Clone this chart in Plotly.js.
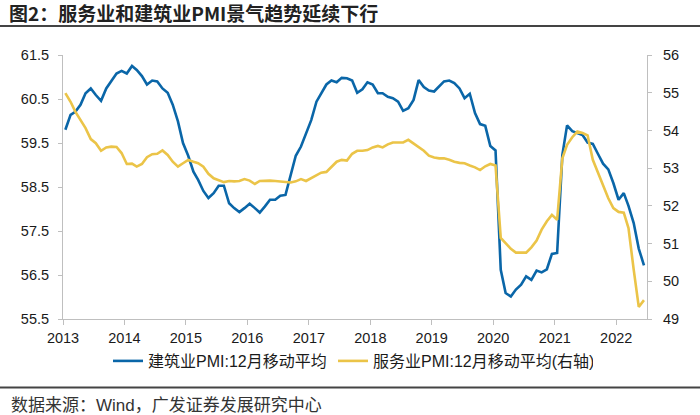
<!DOCTYPE html>
<html>
<head>
<meta charset="utf-8">
<script src="https://cdn.plot.ly/plotly-3.0.1.min.js"></script>
<style>
html,body{margin:0;padding:0;background:#fff;}
#chart{width:700px;height:415px;}
</style>
</head>
<body>
<div id="chart"></div>
<script>
// Monthly data, Jan 2013 – Jun 2022
var startYear = 2013, startMonth = 1, nMonths = 114;

var construction = [
59.80,60.14,60.21,60.37,60.63,60.74,60.59,60.46,60.74,60.90,61.08,61.14,
61.08,61.25,61.16,61.02,60.83,60.92,60.90,60.74,60.64,60.37,59.99,59.50,
59.21,58.85,58.66,58.41,58.25,58.36,58.53,58.53,58.13,58.02,57.93,58.02,
58.12,58.02,57.92,58.06,58.21,58.21,58.30,58.32,58.80,59.21,59.42,59.72,
60.02,60.44,60.64,60.83,60.92,60.88,60.98,60.97,60.92,60.64,60.72,60.88,
60.83,60.63,60.63,60.55,60.52,60.44,60.23,60.29,60.48,60.93,60.77,60.69,
60.67,60.78,60.90,60.92,60.86,60.74,60.52,60.62,60.18,59.93,59.89,59.43,
59.33,56.62,56.09,56.01,56.17,56.28,56.47,56.39,56.60,56.56,56.63,56.98,
57.00,59.23,59.90,59.77,59.72,59.68,59.51,59.48,59.25,59.03,58.90,58.59,
58.21,58.36,58.07,57.68,57.10,56.72
];

var services = [
54.99,54.76,54.50,54.28,54.06,53.77,53.66,53.46,53.55,53.57,53.56,53.40,
53.11,53.12,53.04,53.11,53.29,53.37,53.38,53.47,53.35,53.17,53.04,53.13,
53.22,53.17,53.13,53.04,52.85,52.73,52.69,52.63,52.66,52.65,52.66,52.71,
52.67,52.58,52.66,52.67,52.67,52.66,52.65,52.65,52.62,52.65,52.71,52.66,
52.73,52.82,52.88,52.90,53.04,53.17,53.22,53.20,53.38,53.46,53.46,53.48,
53.55,53.59,53.55,53.63,53.68,53.69,53.68,53.75,53.66,53.56,53.46,53.33,
53.28,53.26,53.26,53.22,53.17,53.14,53.13,53.07,53.02,52.95,53.05,53.11,
53.07,51.15,51.01,50.86,50.76,50.75,50.76,50.90,51.08,51.37,51.59,51.76,
51.63,53.26,53.62,53.82,53.97,53.93,53.87,53.22,52.87,52.53,52.20,51.94,
51.84,51.82,51.41,50.31,49.32,49.50
];

var yearTicks = ['2013','2014','2015','2016','2017','2018','2019','2020','2021','2022'];
var leftTicks = [55.5,56.5,57.5,58.5,59.5,60.5,61.5];
var rightTicks = [49,50,51,52,53,54,55,56];

var seriesNames = ['建筑业PMI:12月移动平均','服务业PMI:12月移动平均(右轴)'];
var titleText = '图2：服务业和建筑业PMI景气趋势延续下行';
var sourceText = '数据来源：Wind，广发证券发展研究中心';

function pad(n){return (n<10?'0':'')+n;}
var months = [];
for (var k=0;k<nMonths;k++){
  var m = startMonth-1+k;
  var y = startYear+Math.floor(m/12);
  months.push(y+'-'+pad(m%12+1)+'-15');
}
var tickVals = yearTicks.map(function(t){return t+'-01-01';});

var FONT = 'Liberation Sans, Arial, Noto Sans CJK SC, sans-serif';
var BLUE = '#0a66a8', YELLOW = '#ebc448', AXIS = '#bfbfbf', TXT = '#1a1a1a';

var traces = [
  {x:months, y:construction, type:'scatter', mode:'lines', name:seriesNames[0],
   line:{color:BLUE, width:2.6}, yaxis:'y', legendwidth:180},
  {x:months, y:services, type:'scatter', mode:'lines', name:seriesNames[1],
   line:{color:YELLOW, width:2.6}, yaxis:'y2', legendwidth:215}
];

var L=63, R=647, T=55, B=319, W=700, H=415;
var pw=R-L, ph=B-T;
function px(xp){return (xp-L)/pw;}
function py(yp){return (B-yp)/ph;}

var layout = {
  width:W, height:H,
  margin:{l:L, r:W-R, t:T, b:H-B, pad:0},
  paper_bgcolor:'#fff', plot_bgcolor:'#fff',
  font:{family:FONT, size:14.5, color:TXT},
  title:{text:'<b>'+titleText+'</b>', xref:'container', yref:'container',
         x:9/W, xanchor:'left', y:1-14.5/H, yanchor:'middle',
         font:{family:'Noto Sans CJK SC, Liberation Sans, sans-serif', size:19, color:'#222'}},
  showlegend:true,
  legend:{orientation:'h', x:px(108), xanchor:'left', y:py(361), yanchor:'middle',
          font:{family:FONT, size:16, color:TXT}, itemwidth:30,
          bgcolor:'rgba(0,0,0,0)'},
  xaxis:{type:'date', range:['2013-01-01','2022-07-03'],
         tickmode:'array', tickvals:tickVals, ticktext:yearTicks,
         showgrid:false, zeroline:false, showline:true, linecolor:AXIS, linewidth:1,
         ticks:'outside', ticklen:5, tickcolor:AXIS, ticklabelstandoff:1,
         tickfont:{size:14.5, color:TXT}},
  yaxis:{range:[55.5,61.5], tickmode:'array', tickvals:leftTicks,
         ticktext:leftTicks.map(function(v){return v.toFixed(1);}),
         showgrid:false, zeroline:false, showline:true, linecolor:AXIS, linewidth:1,
         ticks:'outside', ticklen:4, tickcolor:AXIS, ticklabelstandoff:6,
         tickfont:{size:14.5, color:TXT}},
  yaxis2:{range:[49,56], overlaying:'y', side:'right', tickmode:'array',
          tickvals:rightTicks, ticktext:rightTicks.map(String),
          showgrid:false, zeroline:false, showline:true, linecolor:AXIS, linewidth:1,
          ticks:'outside', ticklen:4, tickcolor:AXIS, ticklabelstandoff:8,
          tickfont:{size:14.5, color:TXT}},
  shapes:[
    {type:'line', xref:'paper', yref:'paper', x0:px(0), x1:px(W), y0:py(26), y1:py(26),
     line:{color:'#444', width:1.8}},
    {type:'line', xref:'paper', yref:'paper', x0:px(0), x1:px(W), y0:py(387.5), y1:py(387.5),
     line:{color:'#444', width:1.8}}
  ],
  annotations:[
    {text:sourceText, xref:'paper', yref:'paper', x:px(9), y:py(405),
     xanchor:'left', yanchor:'middle', showarrow:false,
     font:{family:FONT, size:17, color:'#333'}}
  ]
};

Plotly.newPlot('chart', traces, layout, {displayModeBar:false, staticPlot:true});
</script>
</body>
</html>
